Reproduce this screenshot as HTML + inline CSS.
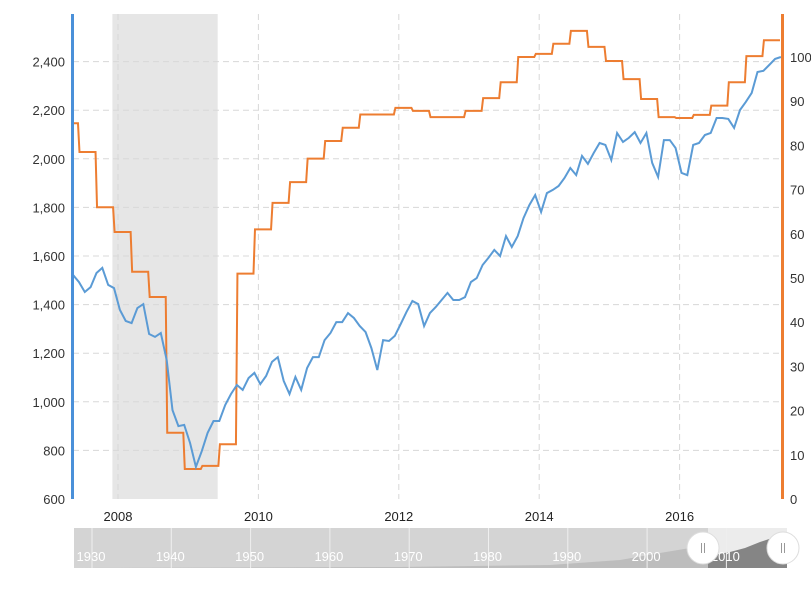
<!DOCTYPE html>
<html><head><meta charset="utf-8"><style>
body{margin:0;background:#fff;font-family:"Liberation Sans",sans-serif}
svg text{font-family:"Liberation Sans",sans-serif}
</style></head><body>
<svg id="c" width="811" height="584" xmlns="http://www.w3.org/2000/svg">
</svg>
<script>
const leftTicks=[600,800,1000,1200,1400,1600,1800,2000,2200,2400];
const rightTicks=[0,10,20,30,40,50,60,70,80,90,100];
const yearTicks=[2008,2010,2012,2014,2016];
const navLabels=[1930,1940,1950,1960,1970,1980,1990,2000,2010];
const blueStart=2007.36;
const blueValues=[1522,1493,1452,1472,1530,1551,1481,1468,1378,1333,1324,1386,1402,1279,1267,1283,1172,966,900,905,830,732,797,872,921,921,987,1032,1069,1049,1098,1119,1073,1106,1164,1184,1086,1032,1102,1049,1139,1184,1184,1254,1283,1328,1328,1365,1345,1312,1287,1221,1131,1254,1250,1271,1320,1370,1415,1402,1312,1365,1390,1419,1448,1419,1419,1431,1493,1509,1563,1592,1625,1600,1682,1637,1682,1756,1810,1851,1781,1859,1872,1888,1921,1962,1933,2012,1979,2024,2065,2057,1995,2106,2069,2086,2110,2065,2106,1983,1925,2077,2077,2044,1942,1933,2057,2065,2098,2106,2168,2168,2164,2127,2201,2234,2271,2357,2362,2386,2411,2419];
const orangeStart=2007.18;
const orangeValues=[85,78.5,66,60.4,51.4,45.7,15,6.8,7.5,12.4,51,61,67,71.7,77,81,84,87,87,88.5,87.8,86.4,86.4,87.8,90.7,94.3,100,100.7,103,105.9,102.3,99.1,95,90.5,86.4,86.2,86.9,89,94.3,100.2,103.8];
const recession=[2007.92,2009.42];

const NS="http://www.w3.org/2000/svg";
const svg=document.getElementById('c');
const X0=73,X1=782,YT=14,YB=499;
const xs=t=>118+(t-2008)*70.2;
const yl=v=>YB-(v-600)/200*48.6;
const yr=v=>YB-v*4.42;
function mk(tag,attrs,parent){const e=document.createElementNS(NS,tag);for(const k in attrs)e.setAttribute(k,attrs[k]);(parent||svg).appendChild(e);return e;}

const defs=mk('defs',{});
const cp=mk('clipPath',{id:'pc'},defs);mk('rect',{x:X0,y:0,width:X1-X0,height:YB},cp);

const rec=mk('rect',{x:xs(recession[0]),y:YT,width:xs(recession[1])-xs(recession[0]),height:YB-YT,fill:'#e6e6e6'});



leftTicks.forEach(v=>{
  if(v>600){const g=mk('line',{x1:X0,x2:X1,y1:yl(v),y2:yl(v),stroke:'#d8d8d8','stroke-dasharray':'6,4'});
  
  }
  const t=mk('text',{x:65,y:yl(v)+5,'text-anchor':'end','font-size':13,fill:'#333'});t.textContent=v.toLocaleString('en-US');
  
  
});
rightTicks.forEach(v=>{
  const t=mk('text',{x:790,y:yr(v)+5,'font-size':13,fill:'#333'});t.textContent=v;
  
  
});
yearTicks.forEach(y=>{
  const g=mk('line',{x1:xs(y),x2:xs(y),y1:YT,y2:YB,stroke:'#d8d8d8','stroke-dasharray':'6,4'});
  
  
  const t=mk('text',{x:xs(y),y:521,'text-anchor':'middle','font-size':13,fill:'#222'});t.textContent=y;
  
  
});

let od='';
orangeValues.forEach((v,i)=>{const xa=xs(orangeStart+i*0.25),xb=xs(orangeStart+(i+1)*0.25);od+=(i?'L':'M')+(xa+1.5)+','+yr(v)+'L'+xb+','+yr(v);});
const op=mk('path',{d:od,fill:'none',stroke:'#ed7d31','stroke-width':2,'clip-path':'url(#pc)'});



let bd='';
blueValues.forEach((v,i)=>{bd+=(i?'L':'M')+xs(blueStart+i/12).toFixed(1)+','+yl(v).toFixed(1);});
const bp=mk('path',{d:bd,fill:'none',stroke:'#5b9bd5','stroke-width':2,'clip-path':'url(#pc)'});



const la=mk('rect',{x:X0-2,y:YT,width:3,height:YB-YT,fill:'#4a90d9'});


const ra=mk('rect',{x:X1-1,y:YT,width:3,height:YB-YT,fill:'#ed7d31'});



// navigator
const nav=mk('g',{});


mk('rect',{x:74,y:528,width:713,height:40,fill:'#d4d4d4'},nav);
mk('rect',{x:708,y:528,width:79,height:40,fill:'#ececec'},nav);
mk('path',{d:'M74,568 L400,567 L550,565 L620,560 L660,553 L690,548 L708,546 L708,568Z',fill:'#bdbdbd'},nav);
mk('path',{d:'M708,568 L708,556 L730,552 L745,548 L760,542 L775,537 L787,534 L787,568Z',fill:'#858585'},nav);
navLabels.forEach((y,i)=>{
  const x=92+i*79.3;
  mk('line',{x1:x,x2:x,y1:528,y2:568,stroke:'#efefef'},nav);
  const t=mk('text',{x:x-1,y:561,'text-anchor':'middle','font-size':13,fill:'#fff'},nav);t.textContent=y;
  
  
});
[703,783].forEach(cx=>{
  const h=mk('g',{},nav);
  
  
  mk('circle',{cx:cx,cy:548,r:16,fill:'#fff',stroke:'#ddd'},h);
  mk('line',{x1:cx-1.5,x2:cx-1.5,y1:543,y2:553,stroke:'#999'},h);
  mk('line',{x1:cx+1.5,x2:cx+1.5,y1:543,y2:553,stroke:'#999'},h);
});
</script>
</body></html>
